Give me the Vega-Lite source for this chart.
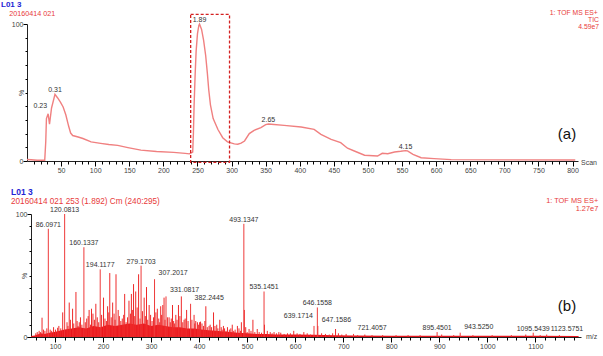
{
  "$schema": "https://vega.github.io/schema/vega-lite/v6.json",
  "background": "white",
  "padding": 0,
  "spacing": 53,
  "bounds": "flush",
  "config": {
    "view": {"stroke": null},
    "axis": {
      "grid": false,
      "domainColor": "#222",
      "domainWidth": 1,
      "ticks": true,
      "tickColor": "#000",
      "tickWidth": 1,
      "tickOpacity": 1,
      "labelColor": "#444",
      "labelFont": "Liberation Sans",
      "labelFontSize": 7,
      "labelPadding": 1,
      "labelOverlap": false,
      "labelFlush": false,
      "labelBound": false,
      "titleFont": "Liberation Sans",
      "titleFontSize": 7,
      "titleFontWeight": "normal",
      "titleColor": "#444"
    },
    "text": {"font": "Liberation Sans"}
  },
  "datasets": {
    "tic": [
      {"scan": 0, "pct": 1.1}, {"scan": 6, "pct": 0.9}, {"scan": 15, "pct": 0.6}, {"scan": 26, "pct": 0.5},
      {"scan": 27.5, "pct": 14}, {"scan": 28.5, "pct": 31}, {"scan": 31, "pct": 34.5}, {"scan": 33, "pct": 26.8},
      {"scan": 36, "pct": 38.7}, {"scan": 41, "pct": 48.7}, {"scan": 45, "pct": 46}, {"scan": 49, "pct": 43},
      {"scan": 53, "pct": 39.4}, {"scan": 57, "pct": 33.6}, {"scan": 61, "pct": 25.5}, {"scan": 64, "pct": 20.4},
      {"scan": 67, "pct": 18.6}, {"scan": 75, "pct": 17.5}, {"scan": 82, "pct": 16.4}, {"scan": 94, "pct": 14},
      {"scan": 108, "pct": 12.9}, {"scan": 120, "pct": 12}, {"scan": 133, "pct": 11.4}, {"scan": 148, "pct": 9.8},
      {"scan": 167, "pct": 7.9}, {"scan": 190, "pct": 6.9}, {"scan": 215, "pct": 6.3}, {"scan": 232, "pct": 5.6},
      {"scan": 238, "pct": 5.2}, {"scan": 241, "pct": 6}, {"scan": 243, "pct": 6.5}, {"scan": 244, "pct": 20},
      {"scan": 245, "pct": 40}, {"scan": 246.5, "pct": 62}, {"scan": 248, "pct": 80}, {"scan": 250, "pct": 93},
      {"scan": 252, "pct": 99}, {"scan": 253, "pct": 100}, {"scan": 256, "pct": 96}, {"scan": 259, "pct": 88},
      {"scan": 262, "pct": 77}, {"scan": 264.5, "pct": 64}, {"scan": 266.5, "pct": 52}, {"scan": 269, "pct": 41},
      {"scan": 273, "pct": 31}, {"scan": 280, "pct": 23}, {"scan": 287, "pct": 17}, {"scan": 294, "pct": 14},
      {"scan": 304, "pct": 12.5}, {"scan": 309, "pct": 12.2}, {"scan": 314, "pct": 13}, {"scan": 319, "pct": 14.6},
      {"scan": 326, "pct": 20}, {"scan": 333, "pct": 22.4}, {"scan": 343, "pct": 24.3}, {"scan": 350, "pct": 26.5},
      {"scan": 354, "pct": 27}, {"scan": 358, "pct": 26.8}, {"scan": 377, "pct": 26}, {"scan": 402, "pct": 24.8},
      {"scan": 421, "pct": 23.1}, {"scan": 431, "pct": 19.5}, {"scan": 446, "pct": 15.8}, {"scan": 460, "pct": 13.4},
      {"scan": 470, "pct": 9.3}, {"scan": 480, "pct": 7.3}, {"scan": 495, "pct": 4.2}, {"scan": 514, "pct": 3.6},
      {"scan": 521, "pct": 5.6}, {"scan": 529, "pct": 5.3}, {"scan": 539, "pct": 6.6}, {"scan": 548, "pct": 7.1},
      {"scan": 555, "pct": 7.6}, {"scan": 558, "pct": 7.4}, {"scan": 566, "pct": 4.9}, {"scan": 578, "pct": 2.4},
      {"scan": 597, "pct": 1.7}, {"scan": 622, "pct": 1}, {"scan": 700, "pct": 0.8}, {"scan": 804, "pct": 0.7}
    ],
    "ticPeaks": [
      {"time": 0.23, "scan": 31, "pct": 34.5},
      {"time": 0.31, "scan": 41, "pct": 48.7},
      {"time": 1.89, "scan": 253, "pct": 100},
      {"time": 2.65, "scan": 354, "pct": 27},
      {"time": 4.15, "scan": 555, "pct": 7.6}
    ],
    "combined": [{"start": 240, "end": 297}],
    "floor": [
      {"mz": 50, "int": 0.8}, {"mz": 58, "int": 1.2}, {"mz": 64, "int": 2}, {"mz": 70, "int": 3},
      {"mz": 78, "int": 2.5}, {"mz": 88, "int": 3.5}, {"mz": 98, "int": 4}, {"mz": 110, "int": 5},
      {"mz": 120, "int": 6}, {"mz": 135, "int": 7}, {"mz": 150, "int": 8}, {"mz": 165, "int": 7},
      {"mz": 180, "int": 9}, {"mz": 195, "int": 8}, {"mz": 210, "int": 10}, {"mz": 225, "int": 9},
      {"mz": 240, "int": 10}, {"mz": 255, "int": 11}, {"mz": 270, "int": 10}, {"mz": 285, "int": 11},
      {"mz": 300, "int": 9}, {"mz": 315, "int": 10}, {"mz": 330, "int": 9}, {"mz": 345, "int": 8},
      {"mz": 360, "int": 8}, {"mz": 375, "int": 7}, {"mz": 390, "int": 7}, {"mz": 405, "int": 6},
      {"mz": 420, "int": 5.5}, {"mz": 435, "int": 5}, {"mz": 450, "int": 4.5}, {"mz": 465, "int": 4},
      {"mz": 480, "int": 3.5}, {"mz": 500, "int": 3}, {"mz": 520, "int": 2.5}, {"mz": 540, "int": 2.5},
      {"mz": 560, "int": 2}, {"mz": 580, "int": 2}, {"mz": 600, "int": 2}, {"mz": 640, "int": 1.8},
      {"mz": 680, "int": 1.5}, {"mz": 720, "int": 1.2}, {"mz": 800, "int": 1}, {"mz": 900, "int": 1},
      {"mz": 1000, "int": 1}, {"mz": 1100, "int": 1}, {"mz": 1190, "int": 0.9}
    ],
    "peaks": [
      {"mz": 60, "int": 3}, {"mz": 63, "int": 4}, {"mz": 67, "int": 5}, {"mz": 70, "int": 4}, {"mz": 73, "int": 15.7},
      {"mz": 76, "int": 6}, {"mz": 79, "int": 5}, {"mz": 83, "int": 7}, {"mz": 90, "int": 6}, {"mz": 93, "int": 5},
      {"mz": 97, "int": 8}, {"mz": 101, "int": 6}, {"mz": 105.5, "int": 7.5}, {"mz": 108, "int": 9}, {"mz": 112, "int": 7},
      {"mz": 116, "int": 20}, {"mz": 125, "int": 12}, {"mz": 127, "int": 9}, {"mz": 129.6, "int": 28}, {"mz": 132, "int": 14},
      {"mz": 136.6, "int": 23}, {"mz": 139, "int": 11}, {"mz": 143.6, "int": 36.6}, {"mz": 146, "int": 13}, {"mz": 148, "int": 9},
      {"mz": 150.5, "int": 12}, {"mz": 153, "int": 16}, {"mz": 156, "int": 10}, {"mz": 163, "int": 12}, {"mz": 166, "int": 15},
      {"mz": 169, "int": 17}, {"mz": 171, "int": 22}, {"mz": 174, "int": 10}, {"mz": 176, "int": 23}, {"mz": 179, "int": 19},
      {"mz": 182, "int": 14}, {"mz": 185, "int": 27}, {"mz": 188, "int": 16}, {"mz": 191, "int": 12}, {"mz": 197, "int": 18},
      {"mz": 201, "int": 32}, {"mz": 204, "int": 15}, {"mz": 207, "int": 13}, {"mz": 209.5, "int": 25}, {"mz": 212, "int": 20},
      {"mz": 214, "int": 52}, {"mz": 217, "int": 16}, {"mz": 220, "int": 28}, {"mz": 223, "int": 19}, {"mz": 225, "int": 14},
      {"mz": 227, "int": 51}, {"mz": 231.5, "int": 22}, {"mz": 234, "int": 17}, {"mz": 237, "int": 13}, {"mz": 240, "int": 15},
      {"mz": 243, "int": 18}, {"mz": 245, "int": 35}, {"mz": 248, "int": 12}, {"mz": 251, "int": 16}, {"mz": 254, "int": 29.5},
      {"mz": 257, "int": 19}, {"mz": 259, "int": 35}, {"mz": 261, "int": 22}, {"mz": 263.5, "int": 43}, {"mz": 266, "int": 17},
      {"mz": 268, "int": 37}, {"mz": 271, "int": 24}, {"mz": 274, "int": 51}, {"mz": 277, "int": 15}, {"mz": 282, "int": 21},
      {"mz": 285.6, "int": 32}, {"mz": 288, "int": 17}, {"mz": 290.5, "int": 40.6}, {"mz": 293, "int": 14}, {"mz": 296, "int": 26},
      {"mz": 299, "int": 18}, {"mz": 302, "int": 13}, {"mz": 305, "int": 16}, {"mz": 310, "int": 20}, {"mz": 313, "int": 23},
      {"mz": 316, "int": 15}, {"mz": 318, "int": 12}, {"mz": 320, "int": 25}, {"mz": 322, "int": 18}, {"mz": 324.4, "int": 26},
      {"mz": 327, "int": 32}, {"mz": 329, "int": 14}, {"mz": 334, "int": 16}, {"mz": 337.5, "int": 16}, {"mz": 340, "int": 12},
      {"mz": 342, "int": 15}, {"mz": 344.6, "int": 26}, {"mz": 347, "int": 13}, {"mz": 349, "int": 11}, {"mz": 351.5, "int": 18},
      {"mz": 354, "int": 14}, {"mz": 357, "int": 26}, {"mz": 360, "int": 17}, {"mz": 363, "int": 33}, {"mz": 366, "int": 12},
      {"mz": 368.7, "int": 14}, {"mz": 371, "int": 15}, {"mz": 374, "int": 22}, {"mz": 377, "int": 13}, {"mz": 385, "int": 14},
      {"mz": 389.5, "int": 18}, {"mz": 391, "int": 11}, {"mz": 393, "int": 13}, {"mz": 396.5, "int": 12}, {"mz": 399, "int": 10},
      {"mz": 401, "int": 12}, {"mz": 403, "int": 12.5}, {"mz": 406, "int": 11}, {"mz": 409, "int": 9}, {"mz": 412, "int": 13},
      {"mz": 414, "int": 25}, {"mz": 417, "int": 8}, {"mz": 420.7, "int": 9}, {"mz": 423, "int": 10}, {"mz": 426, "int": 8},
      {"mz": 430, "int": 20}, {"mz": 433, "int": 9}, {"mz": 436.7, "int": 10}, {"mz": 439, "int": 7}, {"mz": 443, "int": 14},
      {"mz": 446, "int": 8}, {"mz": 448, "int": 6}, {"mz": 450.6, "int": 9}, {"mz": 453, "int": 7}, {"mz": 456, "int": 5},
      {"mz": 459, "int": 8}, {"mz": 463, "int": 6}, {"mz": 466, "int": 7}, {"mz": 469, "int": 10}, {"mz": 472, "int": 5},
      {"mz": 475, "int": 6}, {"mz": 479.7, "int": 9}, {"mz": 483, "int": 7}, {"mz": 486, "int": 5}, {"mz": 488, "int": 12},
      {"mz": 494.14, "int": 22}, {"mz": 497, "int": 8}, {"mz": 500, "int": 4}, {"mz": 504, "int": 6.5}, {"mz": 508, "int": 5},
      {"mz": 512, "int": 14}, {"mz": 516, "int": 4}, {"mz": 521, "int": 6.5}, {"mz": 525, "int": 4}, {"mz": 530, "int": 3.5},
      {"mz": 536.15, "int": 10}, {"mz": 542, "int": 5}, {"mz": 548, "int": 4}, {"mz": 552, "int": 3}, {"mz": 556, "int": 4},
      {"mz": 561, "int": 3}, {"mz": 566, "int": 4}, {"mz": 570, "int": 3.5}, {"mz": 577, "int": 2.5}, {"mz": 584, "int": 3},
      {"mz": 590, "int": 3}, {"mz": 597, "int": 5}, {"mz": 604, "int": 3}, {"mz": 610, "int": 2.5}, {"mz": 618, "int": 4},
      {"mz": 625, "int": 3}, {"mz": 632, "int": 2}, {"mz": 655, "int": 3}, {"mz": 663, "int": 2.5}, {"mz": 671, "int": 2},
      {"mz": 678, "int": 3}, {"mz": 684, "int": 6.5}, {"mz": 690, "int": 3}, {"mz": 697, "int": 2}, {"mz": 706, "int": 2.5},
      {"mz": 730, "int": 1.5}, {"mz": 745, "int": 2}, {"mz": 760, "int": 1.5}, {"mz": 782, "int": 1.5}, {"mz": 810, "int": 1.5},
      {"mz": 835, "int": 1.5}, {"mz": 860, "int": 1.5}, {"mz": 905, "int": 2}, {"mz": 930, "int": 1.5}, {"mz": 970, "int": 1.5},
      {"mz": 1010, "int": 1.5}, {"mz": 1050, "int": 1.5}, {"mz": 1080, "int": 2}, {"mz": 1110, "int": 1.5}, {"mz": 1150, "int": 1.5}
    ],
    "labelled": [
      {"mz": 86.0971, "int": 88}, {"mz": 120.0813, "int": 100}, {"mz": 160.1337, "int": 73},
      {"mz": 194.1177, "int": 55}, {"mz": 279.1703, "int": 58}, {"mz": 307.2017, "int": 47},
      {"mz": 331.0817, "int": 33}, {"mz": 382.2445, "int": 27}, {"mz": 493.1347, "int": 92},
      {"mz": 535.1451, "int": 37}, {"mz": 639.1714, "int": 9}, {"mz": 646.1558, "int": 24},
      {"mz": 647.1586, "int": 9}, {"mz": 721.4057, "int": 2.5}, {"mz": 895.4501, "int": 4},
      {"mz": 943.525, "int": 3.5}, {"mz": 1095.5439, "int": 3.5}, {"mz": 1123.5751, "int": 2}
    ]
  },
  "vconcat": [
    {
      "width": 551,
      "height": 137,
      "resolve": {"axis": {"x": "independent", "y": "independent"}},
      "layer": [
        {
          "data": {"name": "tic"},
          "mark": {"type": "line", "color": "#f08080", "strokeWidth": 1.4},
          "encoding": {
            "x": {
              "field": "scan", "type": "quantitative",
              "scale": {"domain": [0, 808], "nice": false, "zero": false},
              "axis": {
                "orient": "bottom", "title": null, "format": "d",
                "values": [50,100,150,200,250,300,350,400,450,500,550,600,650,700,750,800],
                "tickSize": 5, "labelPadding": 0
              }
            },
            "y": {
              "field": "pct", "type": "quantitative",
              "scale": {"domain": [0, 100], "nice": false},
              "axis": {
                "orient": "left",
                "title": "%", "titleAngle": -90, "titleX": -6, "titleY": 68.5,
                "titleAlign": "center", "titleBaseline": "middle",
                "format": "d", "values": [0, 100],
                "tickSize": 4, "labelPadding": 0
              }
            }
          }
        },
        {
          "data": {"name": "combined"},
          "mark": {"type": "rect", "fill": null, "stroke": "#d42020", "strokeWidth": 1.3, "strokeDash": [3, 2]},
          "encoding": {
            "x": {
              "field": "start", "type": "quantitative",
              "axis": {
                "orient": "bottom", "title": null, "labels": false, "domain": false, "tickSize": 3,
                "values": [10,20,30,40,60,70,80,90,110,120,130,140,160,170,180,190,210,220,230,240,260,270,280,290,310,320,330,340,360,370,380,390,410,420,430,440,460,470,480,490,510,520,530,540,560,570,580,590,610,620,630,640,660,670,680,690,710,720,730,740,760,770,780,790]
              }
            },
            "x2": {"field": "end"},
            "y": {
              "datum": 107, "type": "quantitative",
              "axis": {
                "orient": "left", "title": null, "labels": false, "domain": false, "tickSize": 2,
                "values": [10,20,30,40,50,60,70,80,90]
              }
            },
            "y2": {"datum": -1}
          }
        },
        {
          "data": {"name": "ticPeaks"},
          "transform": [{"filter": "datum.time !== 0.23"}],
          "mark": {"type": "text", "align": "center", "baseline": "middle", "dy": -4, "fontSize": 7, "color": "#333"},
          "encoding": {
            "x": {"field": "scan", "type": "quantitative", "axis": null},
            "y": {"field": "pct", "type": "quantitative", "axis": null},
            "text": {"field": "time", "type": "quantitative", "format": ".2f"}
          }
        },
        {
          "data": {"name": "ticPeaks"},
          "transform": [{"filter": "datum.time === 0.23"}],
          "mark": {"type": "text", "align": "right", "baseline": "middle", "dx": -1, "dy": -8, "fontSize": 7, "color": "#333"},
          "encoding": {
            "x": {"field": "scan", "type": "quantitative", "axis": null},
            "y": {"field": "pct", "type": "quantitative", "axis": null},
            "text": {"field": "time", "type": "quantitative", "format": ".2f"}
          }
        },
        {
          "data": {"values": [{}]},
          "mark": {"type": "text", "align": "left", "baseline": "middle", "fontSize": 8, "fontWeight": "bold", "color": "#2323d4"},
          "encoding": {"x": {"datum": -38.13, "type": "quantitative", "axis": null}, "y": {"datum": 113.87, "type": "quantitative", "axis": null}, "text": {"value": "L01 3"}}
        },
        {
          "data": {"values": [{}]},
          "mark": {"type": "text", "align": "left", "baseline": "middle", "fontSize": 7.2, "color": "#e83a3a"},
          "encoding": {"x": {"datum": -26, "type": "quantitative", "axis": null}, "y": {"datum": 107.66, "type": "quantitative", "axis": null}, "text": {"value": "20160414 021"}}
        },
        {
          "data": {"values": [{}]},
          "mark": {"type": "text", "align": "right", "baseline": "middle", "fontSize": 6.8, "color": "#e83a3a"},
          "encoding": {"x": {"datum": 836.9, "type": "quantitative", "axis": null}, "y": {"datum": 108.0, "type": "quantitative", "axis": null}, "text": {"value": "1: TOF MS ES+"}}
        },
        {
          "data": {"values": [{}]},
          "mark": {"type": "text", "align": "right", "baseline": "middle", "fontSize": 6.8, "color": "#e83a3a"},
          "encoding": {"x": {"datum": 838.8, "type": "quantitative", "axis": null}, "y": {"datum": 102.8, "type": "quantitative", "axis": null}, "text": {"value": "TIC"}}
        },
        {
          "data": {"values": [{}]},
          "mark": {"type": "text", "align": "right", "baseline": "middle", "fontSize": 6.8, "color": "#e83a3a"},
          "encoding": {"x": {"datum": 838.8, "type": "quantitative", "axis": null}, "y": {"datum": 97.6, "type": "quantitative", "axis": null}, "text": {"value": "4.59e7"}}
        },
        {
          "data": {"values": [{}]},
          "mark": {"type": "text", "align": "center", "baseline": "middle", "fontSize": 15, "color": "#111"},
          "encoding": {"x": {"datum": 791.9, "type": "quantitative", "axis": null}, "y": {"datum": 19.7, "type": "quantitative", "axis": null}, "text": {"value": "(a)"}}
        },
        {
          "data": {"values": [{}]},
          "mark": {"type": "text", "align": "left", "baseline": "middle", "fontSize": 7, "color": "#444"},
          "encoding": {"x": {"datum": 812.4, "type": "quantitative", "axis": null}, "y": {"datum": -1.5, "type": "quantitative", "axis": null}, "text": {"value": "Scan"}}
        }
      ]
    },
    {
      "width": 554,
      "height": 123,
      "resolve": {"axis": {"x": "independent", "y": "independent"}},
      "layer": [
        {
          "data": {"name": "floor"},
          "mark": {"type": "area", "color": "#e8141c", "interpolate": "linear"},
          "encoding": {
            "x": {
              "field": "mz", "type": "quantitative",
              "scale": {"domain": [41.7, 1195], "nice": false, "zero": false},
              "axis": {
                "orient": "bottom", "title": null, "format": "d",
                "values": [100,200,300,400,500,600,700,800,900,1000,1100],
                "tickSize": 5, "labelPadding": 0
              }
            },
            "y": {
              "field": "int", "type": "quantitative",
              "scale": {"domain": [0, 100], "nice": false},
              "axis": {
                "orient": "left",
                "title": "%", "titleAngle": -90, "titleX": -7, "titleY": 61.5,
                "titleAlign": "center", "titleBaseline": "middle",
                "offset": -4, "format": "d", "values": [0, 100],
                "tickSize": 4, "labelPadding": 0
              }
            }
          }
        },
        {
          "data": {"name": "peaks"},
          "mark": {"type": "rule", "color": "#ee2a2a", "strokeWidth": 1},
          "encoding": {
            "x": {
              "field": "mz", "type": "quantitative",
              "axis": {
                "orient": "bottom", "title": null, "labels": false, "domain": false, "tickSize": 3,
                "values": [60,80,120,140,160,180,220,240,260,280,320,340,360,380,420,440,460,480,520,540,560,580,620,640,660,680,720,740,760,780,820,840,860,880,920,940,960,980,1020,1040,1060,1080,1120,1140,1160,1180]
              }
            },
            "y": {
              "field": "int", "type": "quantitative",
              "axis": {
                "orient": "left", "offset": -4, "title": null, "labels": false, "domain": false, "tickSize": 2,
                "values": [10,20,30,40,50,60,70,80,90]
              }
            },
            "y2": {"datum": 0}
          }
        },
        {
          "data": {"name": "labelled"},
          "mark": {"type": "rule", "color": "#ee3a3a", "strokeWidth": 1},
          "encoding": {
            "x": {"field": "mz", "type": "quantitative", "axis": null},
            "y": {"field": "int", "type": "quantitative", "axis": null},
            "y2": {"datum": 0}
          }
        },
        {
          "data": {"name": "labelled"},
          "transform": [{"filter": "indexof([307.2017, 331.0817, 382.2445, 647.1586, 721.4057, 943.525, 1123.5751], datum.mz) < 0 && datum.mz !== 639.1714"}],
          "mark": {"type": "text", "align": "center", "baseline": "middle", "dy": -4, "fontSize": 7, "color": "#333"},
          "encoding": {
            "x": {"field": "mz", "type": "quantitative", "axis": null},
            "y": {"field": "int", "type": "quantitative", "axis": null},
            "text": {"field": "mz", "type": "quantitative", "format": ".4f"}
          }
        },
        {
          "data": {"name": "labelled"},
          "transform": [{"filter": "indexof([307.2017, 331.0817, 382.2445, 647.1586, 721.4057, 943.525, 1123.5751], datum.mz) >= 0"}],
          "mark": {"type": "text", "align": "left", "baseline": "middle", "dx": 4, "dy": -6, "fontSize": 7, "color": "#333"},
          "encoding": {
            "x": {"field": "mz", "type": "quantitative", "axis": null},
            "y": {"field": "int", "type": "quantitative", "axis": null},
            "text": {"field": "mz", "type": "quantitative", "format": ".4f"}
          }
        },
        {
          "data": {"name": "labelled"},
          "transform": [{"filter": "datum.mz === 639.1714"}],
          "mark": {"type": "text", "align": "right", "baseline": "middle", "dx": -1, "dy": -10, "fontSize": 7, "color": "#333"},
          "encoding": {
            "x": {"field": "mz", "type": "quantitative", "axis": null},
            "y": {"field": "int", "type": "quantitative", "axis": null},
            "text": {"field": "mz", "type": "quantitative", "format": ".4f"}
          }
        },
        {
          "data": {"values": [{}]},
          "mark": {"type": "text", "align": "left", "baseline": "middle", "fontSize": 8.5, "fontWeight": "bold", "color": "#2323d4"},
          "encoding": {"x": {"datum": 8.4, "type": "quantitative", "axis": null}, "y": {"datum": 118.1, "type": "quantitative", "axis": null}, "text": {"value": "L01 3"}}
        },
        {
          "data": {"values": [{}]},
          "mark": {"type": "text", "align": "left", "baseline": "middle", "fontSize": 8.2, "color": "#e83a3a"},
          "encoding": {"x": {"datum": 8.4, "type": "quantitative", "axis": null}, "y": {"datum": 110, "type": "quantitative", "axis": null}, "text": {"value": "20160414 021 253 (1.892) Cm (240:295)"}}
        },
        {
          "data": {"values": [{}]},
          "mark": {"type": "text", "align": "right", "baseline": "middle", "fontSize": 7.4, "color": "#e83a3a"},
          "encoding": {"x": {"datum": 1230.9, "type": "quantitative", "axis": null}, "y": {"datum": 110.3, "type": "quantitative", "axis": null}, "text": {"value": "1: TOF MS ES+"}}
        },
        {
          "data": {"values": [{}]},
          "mark": {"type": "text", "align": "right", "baseline": "middle", "fontSize": 7.4, "color": "#e83a3a"},
          "encoding": {"x": {"datum": 1230.9, "type": "quantitative", "axis": null}, "y": {"datum": 104.0, "type": "quantitative", "axis": null}, "text": {"value": "1.27e7"}}
        },
        {
          "data": {"values": [{}]},
          "mark": {"type": "text", "align": "center", "baseline": "middle", "fontSize": 15, "color": "#111"},
          "encoding": {"x": {"datum": 1165.8, "type": "quantitative", "axis": null}, "y": {"datum": 25.2, "type": "quantitative", "axis": null}, "text": {"value": "(b)"}}
        },
        {
          "data": {"values": [{}]},
          "mark": {"type": "text", "align": "left", "baseline": "middle", "fontSize": 7, "color": "#444"},
          "encoding": {"x": {"datum": 1205.3, "type": "quantitative", "axis": null}, "y": {"datum": 0, "type": "quantitative", "axis": null}, "text": {"value": "m/z"}}
        }
      ]
    }
  ]
}
